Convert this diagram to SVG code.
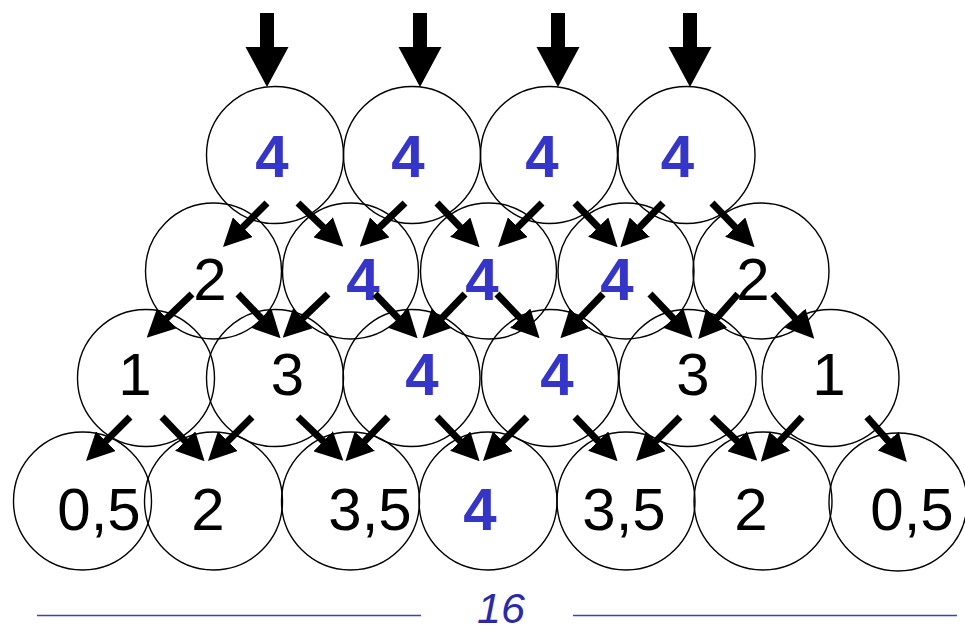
<svg xmlns="http://www.w3.org/2000/svg" xmlns:xlink="http://www.w3.org/1999/xlink" width="965" height="631" viewBox="0 0 965 631">
<style>
.c{fill:none;stroke:#000;stroke-width:1.4}
.t{font-family:"Liberation Sans",Arial,sans-serif;font-size:60px;text-anchor:middle;fill:#000}
.b{font-weight:bold;fill:#3535c8}
.a{stroke:#000;stroke-width:7;fill:none;marker-end:url(#h)}
.sum{font-family:"Liberation Sans",Arial,sans-serif;font-size:43px;font-style:italic;text-anchor:middle;fill:#2a2aa8}
.ln{stroke:#4040b8;stroke-width:1.6}
</style>
<defs>
<marker id="h" markerUnits="userSpaceOnUse" markerWidth="28" markerHeight="28" viewBox="0 0 28 28" refX="2" refY="14" orient="auto">
<path d="M0,0 L28,14 L0,28 z" fill="#000"/>
</marker>
<path id="big" d="M-7,13 L7,13 L7,47 L21.5,47 L0,87 L-21.5,47 L-7,47 z" fill="#000"/>
</defs>
<rect width="965" height="631" fill="#fff"/>

<g id="inputs">
<use xlink:href="#big" x="267"/>
<use xlink:href="#big" x="420"/>
<use xlink:href="#big" x="558"/>
<use xlink:href="#big" x="690"/>
</g>

<g id="row1">
<g id="n1_1"><circle class="c" cx="275" cy="155" r="68.5"/><text class="t b" x="272" y="177">4</text></g>
<g id="n1_2"><circle class="c" cx="412" cy="155" r="68.5"/><text class="t b" x="408" y="177">4</text></g>
<g id="n1_3"><circle class="c" cx="549" cy="155" r="68.5"/><text class="t b" x="542" y="177">4</text></g>
<g id="n1_4"><circle class="c" cx="686.5" cy="155" r="68.5"/><text class="t b" x="677.5" y="177">4</text></g>
</g>

<g id="row2">
<g id="n2_1"><circle class="c" cx="213.5" cy="271" r="68"/><text class="t" x="210" y="300">2</text></g>
<g id="n2_2"><circle class="c" cx="350.5" cy="271" r="68"/><text class="t b" x="363" y="300">4</text></g>
<g id="n2_3"><circle class="c" cx="488.5" cy="271" r="68"/><text class="t b" x="482" y="300">4</text></g>
<g id="n2_4"><circle class="c" cx="626" cy="271" r="68"/><text class="t b" x="617" y="300">4</text></g>
<g id="n2_5"><circle class="c" cx="761" cy="271" r="68"/><text class="t" x="753" y="300">2</text></g>
</g>

<g id="row3">
<g id="n3_1"><circle class="c" cx="146" cy="378" r="68.5"/><text class="t" x="135" y="395">1</text></g>
<g id="n3_2"><circle class="c" cx="275" cy="378" r="68.5"/><text class="t" x="287.5" y="395">3</text></g>
<g id="n3_3"><circle class="c" cx="411.5" cy="378" r="68.5"/><text class="t b" x="422" y="395">4</text></g>
<g id="n3_4"><circle class="c" cx="550" cy="378" r="68.5"/><text class="t b" x="557" y="395">4</text></g>
<g id="n3_5"><circle class="c" cx="687.5" cy="378" r="68.5"/><text class="t" x="693" y="395">3</text></g>
<g id="n3_6"><circle class="c" cx="830.5" cy="378" r="68.5"/><text class="t" x="829" y="395">1</text></g>
</g>

<g id="row4">
<g id="n4_1"><circle class="c" cx="82.5" cy="501" r="69"/><text class="t" x="99" y="530">0,5</text></g>
<g id="n4_2"><circle class="c" cx="213.5" cy="501" r="69"/><text class="t" x="208" y="530">2</text></g>
<g id="n4_3"><circle class="c" cx="350.5" cy="501" r="69"/><text class="t" x="370" y="530">3,5</text></g>
<g id="n4_4"><circle class="c" cx="488" cy="501" r="69"/><text class="t b" x="480" y="530">4</text></g>
<g id="n4_5"><circle class="c" cx="626" cy="501" r="69"/><text class="t" x="624" y="530">3,5</text></g>
<g id="n4_6"><circle class="c" cx="763" cy="501" r="69"/><text class="t" x="751" y="530">2</text></g>
<g id="n4_7"><circle class="c" cx="898" cy="502" r="69"/><text class="t" x="912" y="530">0,5</text></g>
</g>

<g id="connectors">
<line class="a" x1="267" y1="203" x2="241.4" y2="228.6"/>
<line class="a" x1="298" y1="203" x2="324.6" y2="228.6"/>
<line class="a" x1="405" y1="203" x2="378.4" y2="228.6"/>
<line class="a" x1="437" y1="203" x2="461.6" y2="228.6"/>
<line class="a" x1="542" y1="203" x2="516.4" y2="228.6"/>
<line class="a" x1="575" y1="203" x2="599.6" y2="228.6"/>
<line class="a" x1="663" y1="203" x2="638.4" y2="228.6"/>
<line class="a" x1="712" y1="203" x2="736.6" y2="228.6"/>

<line class="a" x1="192" y1="294" x2="165.4" y2="319.6"/>
<line class="a" x1="238" y1="294" x2="262.6" y2="319.6"/>
<line class="a" x1="328" y1="294" x2="301.4" y2="319.6"/>
<line class="a" x1="375" y1="294" x2="399.6" y2="319.6"/>
<line class="a" x1="465" y1="294" x2="440.4" y2="319.6"/>
<line class="a" x1="497" y1="294" x2="521.6" y2="319.6"/>
<line class="a" x1="603" y1="294" x2="578.4" y2="319.6"/>
<line class="a" x1="650" y1="294" x2="674.6" y2="319.6"/>
<line class="a" x1="738" y1="294" x2="715.4" y2="319.6"/>
<line class="a" x1="773" y1="294" x2="796.6" y2="319.6"/>

<line class="a" x1="130" y1="417" x2="104.4" y2="442.6"/>
<line class="a" x1="162" y1="417" x2="186.6" y2="442.6"/>
<line class="a" x1="252" y1="417" x2="226.4" y2="442.6"/>
<line class="a" x1="298" y1="417" x2="324.6" y2="442.6"/>
<line class="a" x1="388" y1="417" x2="363.4" y2="442.6"/>
<line class="a" x1="437" y1="417" x2="461.6" y2="442.6"/>
<line class="a" x1="527" y1="417" x2="501.4" y2="442.6"/>
<line class="a" x1="575" y1="417" x2="599.6" y2="442.6"/>
<line class="a" x1="680" y1="417" x2="654.4" y2="442.6"/>
<line class="a" x1="712" y1="417" x2="738.6" y2="442.6"/>
<line class="a" x1="802" y1="417" x2="778.4" y2="442.6"/>
<line class="a" x1="867" y1="417" x2="889.6" y2="442.6"/>
</g>

<g id="total">
<line class="ln" x1="37" y1="615.5" x2="421" y2="615.5"/>
<line class="ln" x1="573" y1="615.5" x2="957" y2="615.5"/>
<text class="sum" x="501" y="623">16</text>
</g>
</svg>
